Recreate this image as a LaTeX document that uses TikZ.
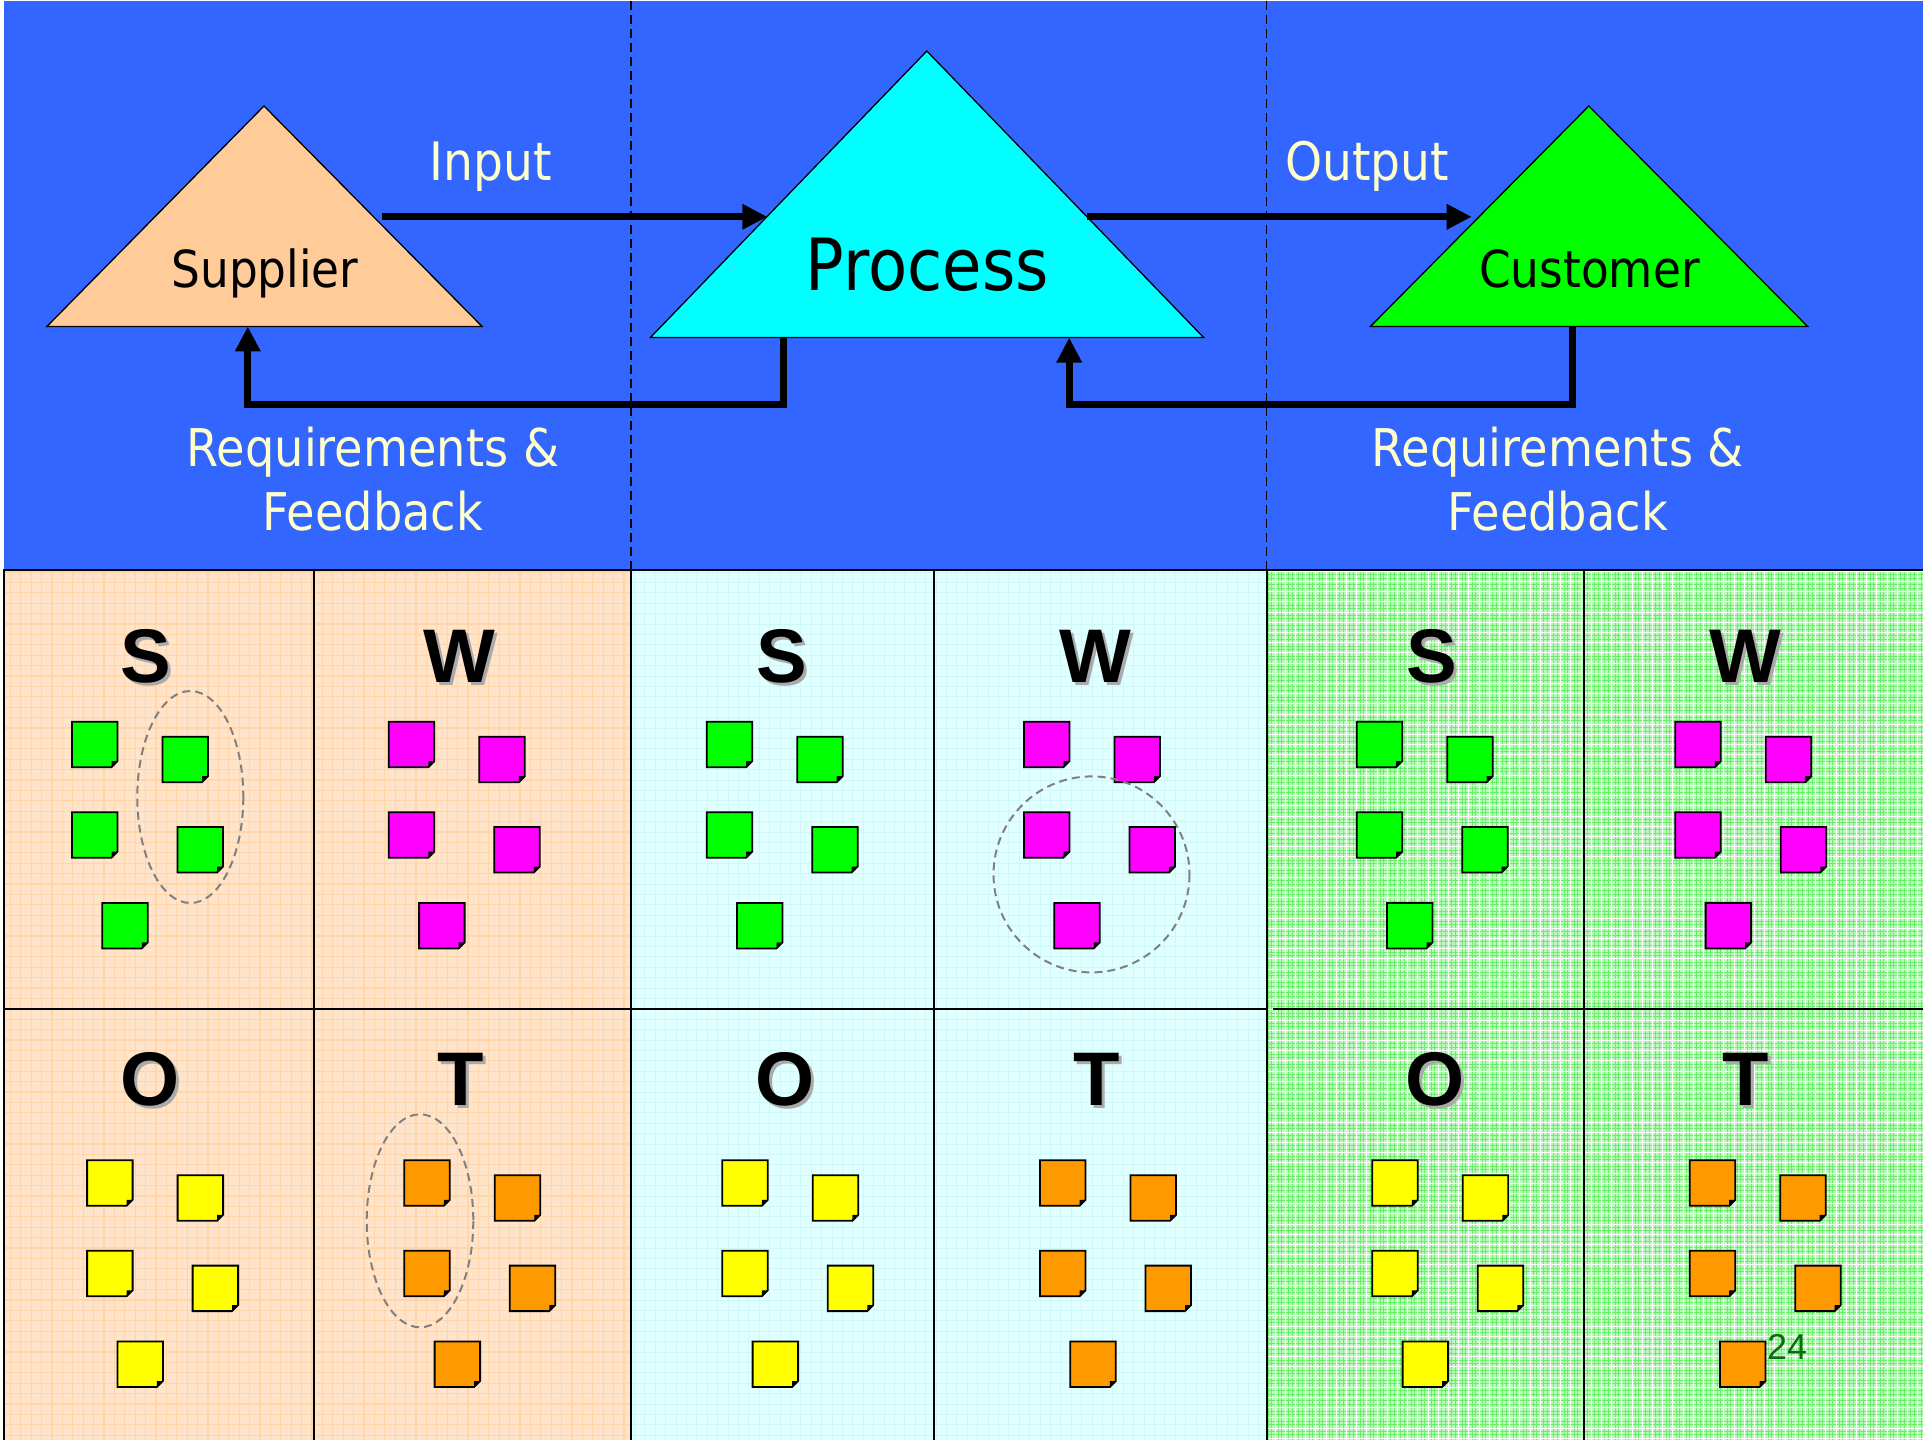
\documentclass[tikz,border=0pt]{standalone}
\usepackage{fontspec}
\usetikzlibrary{arrows.meta}

\newfontfamily\labelfont{DejaVu Sans}[FakeStretch=0.89]
\newfontfamily\quadfont{Liberation Sans}

\definecolor{headblue}{HTML}{3366FF}
\definecolor{cream}{HTML}{FFFFCC}
\definecolor{supfill}{HTML}{FFCC99}
\definecolor{procfill}{HTML}{00FFFF}
\definecolor{custfill}{HTML}{00FF00}
\definecolor{notegreen}{HTML}{00FF00}
\definecolor{notemagenta}{HTML}{FF00FF}
\definecolor{noteyellow}{HTML}{FFFF00}
\definecolor{noteorange}{HTML}{FF9900}
\definecolor{peachbase}{HTML}{FFE4CA}
\definecolor{peachgrid}{HTML}{FFD5AC}
\definecolor{cyanbase}{HTML}{E0FFFF}
\definecolor{cyangrid}{HTML}{CFF6F8}
\definecolor{greenbase}{HTML}{BDFABD}
\definecolor{greengrid}{HTML}{6AEE6A}
\definecolor{ringgrey}{HTML}{808080}
\definecolor{pagegreen}{HTML}{0C6B0C}
\definecolor{shadowgrey}{HTML}{AAAAAA}

\tikzset{
  pics/sticky/.style={code={
    \filldraw[fill=#1,draw=black,line width=1.8pt,line join=miter]
      (0,0) -- (45.5,0) -- (45.5,39.5) -- (39.5,45.5) -- (0,45.5) -- cycle;
    \fill[black] (39.5,45.5) -- (45.5,39.5) -- (39.5,39.5) -- cycle;
  }},
  flow/.style={line width=7.2pt,line join=miter},
  tip/.style={-{Triangle[length=25pt,width=24pt]}},
  shape outline/.style={draw=black,line width=1.3pt,line join=miter},
  caption/.style={text=cream,font=\labelfont\fontsize{52}{60}\selectfont,anchor=base,inner sep=0pt},
  shapelabel/.style={text=black,anchor=base,inner sep=0pt},
  divider/.style={draw=black,line width=1.5pt,dash pattern=on 9pt off 5pt},
  panelline/.style={draw=black,line width=2pt},
  quadletter/.style={font=\quadfont\bfseries\fontsize{76}{80}\selectfont,anchor=base,inner sep=0pt},
  ring/.style={draw=ringgrey,line width=2pt,dash pattern=on 8pt off 5pt}
}

% five sticky notes in the usual arrangement; #1,#2 = top-left of the first note
\newcommand{\notegroup}[4]{%
  \pic (#4a) at (#1,#2) {sticky=#3};
  \pic (#4b) at ({#1+90.5},{#2+15}) {sticky=#3};
  \pic (#4c) at (#1,{#2+90.5}) {sticky=#3};
  \pic (#4d) at ({#1+105.5},{#2+105.3}) {sticky=#3};
  \pic (#4e) at ({#1+30.3},{#2+181.2}) {sticky=#3};
}

% a bold quadrant letter with its grey drop shadow
\newcommand{\quadlabel}[4]{%
  \node[quadletter,text=shadowgrey] (#4s) at ({#1+3},{#2+3}) {#3};
  \node[quadletter,text=black] (#4) at (#1,#2) {#3};
}

\begin{document}
\begin{tikzpicture}[x=1pt,y=-1pt]
\useasboundingbox (0,0) rectangle (1923,1440);
\fill[white] (0,0) rectangle (1923,1440);

% ---------- SIPOC header ----------
\fill[headblue] (4,1) rectangle (1923,570);
\draw[divider] (631,1) -- (631,570);
\draw[divider] (1266.5,1) -- (1266.5,570);

% supplier
\coordinate (supL) at (47,326.4);
\coordinate (supT) at (264,106);
\coordinate (supR) at (482,326.4);
\filldraw[fill=supfill,shape outline] (supL) -- (supT) -- (supR) -- cycle;
\node[shapelabel,font=\labelfont\fontsize{51}{60}\selectfont] (supplier) at (265,287.5) {Supplier};

% process
\coordinate (procL) at (650.4,337.5);
\coordinate (procT) at (926.8,51);
\coordinate (procR) at (1203.6,337.5);
\filldraw[fill=procfill,shape outline] (procL) -- (procT) -- (procR) -- cycle;
\node[shapelabel,font=\labelfont\fontsize{72}{80}\selectfont] (process) at (927.5,290) {Process};

% customer
\coordinate (custL) at (1370.5,326.4);
\coordinate (custT) at (1588.8,106);
\coordinate (custR) at (1807.5,326.4);
\filldraw[fill=custfill,shape outline] (custL) -- (custT) -- (custR) -- cycle;
\node[shapelabel,font=\labelfont\fontsize{51}{60}\selectfont] (customer) at (1589.5,287.5) {Customer};

% forward flow
\coordinate (inStart) at (381.7,216.8);
\coordinate (inEnd) at (767.4,216.8);
\coordinate (outStart) at (1086.8,216.8);
\coordinate (outEnd) at (1471.7,216.8);
\draw[flow,tip] (inStart) -- (inEnd);
\draw[flow,tip] (outStart) -- (outEnd);
\node[caption,font=\labelfont\fontsize{53}{60}\selectfont] (input) at (491,180) {Input};
\node[caption,font=\labelfont\fontsize{53}{60}\selectfont] (output) at (1367,180) {Output};

% feedback loops
\coordinate (procFbOut) at (783.7,337.5);
\coordinate (supFbIn) at (247.8,326.4);
\coordinate (custFbOut) at (1572.5,326.4);
\coordinate (procFbIn) at (1069.2,337.5);
\draw[flow,tip] (procFbOut) -- ++(0,67.1) -| (supFbIn);
\draw[flow,tip] (custFbOut) -- ++(0,78.2) -| (procFbIn);
\node[caption] (reqA1) at (373,466) {Requirements \&};
\node[caption] (reqA2) at (373,530) {Feedback};
\node[caption] (reqB1) at (1557.7,466) {Requirements \&};
\node[caption] (reqB2) at (1557.7,530) {Feedback};

% ---------- SWOT panels ----------
\fill[peachbase] (4,570) rectangle (631,1440);
\begin{scope}
  \clip (4,570) rectangle (631,1440);
  \draw[peachgrid,line width=1.2pt,step=10.4pt] (0,1450) grid (640,560);
\end{scope}
\fill[cyanbase] (631,570) rectangle (1266.5,1440);
\begin{scope}
  \clip (631,570) rectangle (1266.5,1440);
  \draw[cyangrid,line width=0.8pt,step=10.4pt] (620,1450) grid (1280,560);
\end{scope}
\fill[greenbase] (1266.5,570) rectangle (1923,1440);
\begin{scope}
  \clip (1266.5,570) rectangle (1923,1440);
  \draw[greengrid,line width=0.7pt,step=3.4pt] (1260,1450) grid (1930,560);
  \draw[white,line width=1pt,step=10.2pt] (1260,1450) grid (1930,560);
\end{scope}

\draw[panelline] (4,1440) -- (4,570) -- (1923,570);
\foreach \xx in {313.5,631,933.5,1266.5,1584}
  \draw[panelline] (\xx,570) -- (\xx,1440);
\draw[panelline] (4,1009) -- (1266.5,1009);
\draw[panelline] (1273,1009) -- (1923,1009);

% quadrant letters
\quadlabel{145.5}{682}{S}{qS1}
\quadlabel{459}{682}{W}{qW1}
\quadlabel{782}{682}{S}{qS2}
\quadlabel{1095}{682}{W}{qW2}
\quadlabel{1432}{682}{S}{qS3}
\quadlabel{1745}{682}{W}{qW3}
\quadlabel{150}{1105}{O}{qO1}
\quadlabel{461}{1105}{T}{qT1}
\quadlabel{785}{1105}{O}{qO2}
\quadlabel{1097}{1105}{T}{qT2}
\quadlabel{1435}{1105}{O}{qO3}
\quadlabel{1746}{1105}{T}{qT3}

% sticky notes
\notegroup{72}{721.7}{notegreen}{nS1}
\notegroup{388.8}{721.7}{notemagenta}{nW1}
\notegroup{706.7}{721.7}{notegreen}{nS2}
\notegroup{1024}{721.7}{notemagenta}{nW2}
\notegroup{1356.7}{721.7}{notegreen}{nS3}
\notegroup{1675.3}{721.7}{notemagenta}{nW3}
\notegroup{87.1}{1160.3}{noteyellow}{nO1}
\notegroup{404.3}{1160.3}{noteorange}{nT1}
\notegroup{722.3}{1160.3}{noteyellow}{nO2}
\notegroup{1040}{1160.3}{noteorange}{nT2}
\notegroup{1372.3}{1160.3}{noteyellow}{nO3}
\notegroup{1689.7}{1160.3}{noteorange}{nT3}

% grouping rings
\draw[ring] (190.3,797) ellipse [x radius=53,y radius=106];
\draw[ring] (1091.5,874.4) circle [radius=98];
\draw[ring] (420,1220.8) ellipse [x radius=53.3,y radius=106.5];

% page number
\node[anchor=base west,inner sep=0pt,text=pagegreen,font=\quadfont\fontsize{36}{40}\selectfont] (pageno) at (1767,1359) {24};
\end{tikzpicture}
\end{document}
